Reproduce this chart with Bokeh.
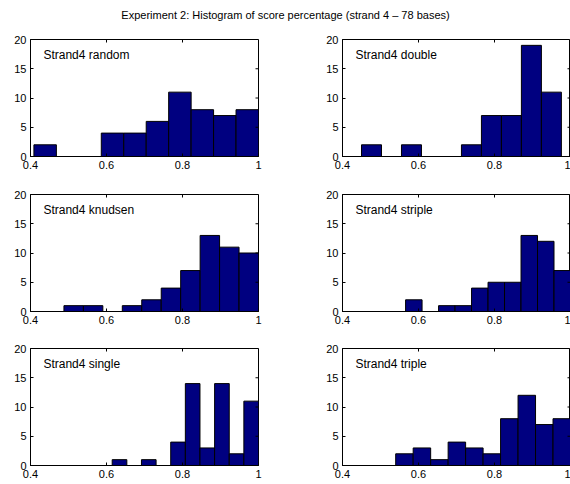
import numpy as np
from bokeh.plotting import figure
from bokeh.layouts import column, row
from bokeh.models import Label, FixedTicker, LinearAxis, Range1d
from bokeh.embed import file_html
from bokeh.resources import INLINE

TITLE = "Experiment 2: Histogram of score percentage (strand 4 \u2013 78 bases)"

names = ["Strand4 random", "Strand4 double", "Strand4 knudsen",
         "Strand4 striple", "Strand4 single", "Strand4 triple"]
bin_min = [0.409, 0.450, 0.488, 0.566, 0.615, 0.540]
bin_max = [1.000, 0.976, 1.000, 1.000, 1.000, 1.000]
counts_random = [2, 0, 0, 4, 4, 6, 11, 8, 7, 8]
counts_double = [2, 0, 2, 0, 0, 2, 7, 7, 19, 11]
counts_knudsen = [1, 1, 0, 1, 2, 4, 7, 13, 11, 10]
counts_striple = [2, 0, 1, 1, 4, 5, 5, 13, 12, 7]
counts_single = [1, 0, 1, 0, 4, 14, 3, 14, 2, 11]
counts_triple = [2, 3, 1, 4, 3, 2, 8, 12, 7, 8]
all_counts = [counts_random, counts_double, counts_knudsen,
              counts_striple, counts_single, counts_triple]

x_ticks = [0.4, 0.6, 0.8, 1.0]
y_ticks = [0, 5, 10, 15, 20]
X_MIN, X_MAX = 0.4, 1.0
Y_MIN, Y_MAX = 0, 20

FONT = "Liberation Sans"
BAR = "#000080"


def style_axis(ax):
    ax.axis_line_color = "black"
    ax.axis_line_width = 1
    ax.major_tick_in = 3
    ax.major_tick_out = 0
    ax.major_tick_line_color = "black"
    ax.minor_tick_line_color = None
    ax.major_label_text_font = FONT
    ax.major_label_text_font_size = "11px"
    ax.major_label_text_color = "black"
    ax.major_label_standoff = 4


ROW_H = [157, 154, 143]
TOP_B = [9, 7, 7]
FRAME_H = 117


def panel(i):
    left_col = i % 2 == 0
    r = i // 2
    h = ROW_H[r]
    mbt = TOP_B[r]
    mbb = h - mbt - FRAME_H
    if left_col:
        w, mbl, mbr = 292, 30, 34
    else:
        w, mbl, mbr = 278, 50, 0
    p = figure(width=w, height=h, output_backend="svg", toolbar_location=None,
               x_range=Range1d(X_MIN, X_MAX), y_range=Range1d(Y_MIN, Y_MAX),
               min_border_left=mbl, min_border_right=mbr,
               min_border_top=mbt, min_border_bottom=mbb,
               x_axis_location=None, y_axis_location=None)
    p.xgrid.visible = False
    p.ygrid.visible = False
    p.outline_line_color = "black"
    p.background_fill_color = "white"
    p.border_fill_color = "white"

    edges = np.linspace(bin_min[i], bin_max[i], len(all_counts[i]) + 1)
    p.quad(left=edges[:-1], right=edges[1:], top=all_counts[i], bottom=0,
           fill_color=BAR, line_color="black", line_width=1)

    xb = LinearAxis(ticker=FixedTicker(ticks=x_ticks),
                    major_label_overrides={1.0: "1", 0.4: "0.4", 0.6: "0.6", 0.8: "0.8"})
    style_axis(xb)
    p.add_layout(xb, "below")
    yl = LinearAxis(ticker=FixedTicker(ticks=y_ticks))
    style_axis(yl)
    p.add_layout(yl, "left")

    # inward ticks on the top and right edges of the box
    p.ray(x=x_ticks, y=[Y_MAX] * len(x_ticks), length=3, length_units="screen",
          angle=-np.pi / 2, line_color="black", line_width=1)
    p.ray(x=[X_MAX] * len(y_ticks), y=y_ticks, length=3, length_units="screen",
          angle=np.pi, line_color="black", line_width=1)

    p.add_layout(Label(x=0.434, y=17.4, text=names[i], text_font=FONT,
                       text_font_size="12px", text_baseline="middle",
                       text_color="black"))
    return p


tp = figure(width=570, height=30, output_backend="svg", toolbar_location=None,
            x_range=Range1d(0, 1), y_range=Range1d(0, 1),
            min_border=0, x_axis_location=None, y_axis_location=None)
tp.xgrid.visible = False
tp.ygrid.visible = False
tp.outline_line_color = None
tp.add_layout(Label(x=0.5, y=0.53, text=TITLE, text_font=FONT,
                    text_font_size="11px", text_align="center",
                    text_baseline="middle", text_color="black"))

panels = [panel(i) for i in range(6)]
layout = column(tp,
                row(panels[0], panels[1]),
                row(panels[2], panels[3]),
                row(panels[4], panels[5]))

open("out.html", "w").write(file_html(layout, INLINE))
